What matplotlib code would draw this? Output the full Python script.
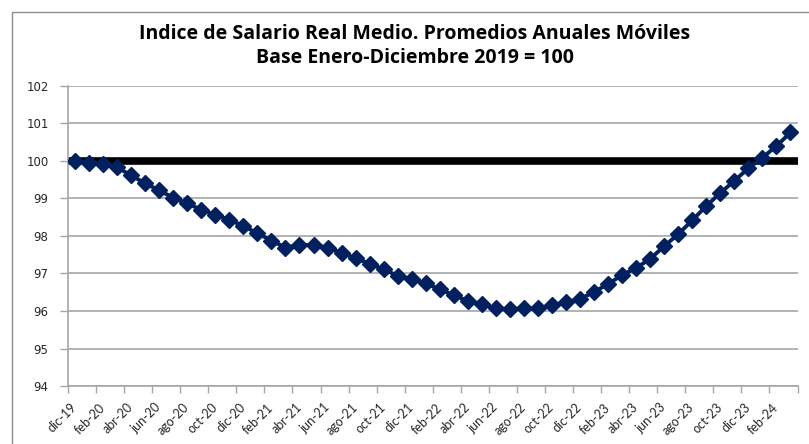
import matplotlib
matplotlib.use("Agg")
import matplotlib.pyplot as plt
from matplotlib.patches import Rectangle
import numpy as np

# ---- data ----
months = ["ene", "feb", "mar", "abr", "may", "jun", "jul", "ago", "sep", "oct", "nov", "dic"]
categories = ["dic-19"] + [f"{m}-{y}" for y in ["20", "21", "22", "23"] for m in months] + ["ene-24", "feb-24", "mar-24"]

values = [
    100.00, 99.95, 99.93, 99.83, 99.62, 99.40, 99.22, 99.02, 98.87, 98.70, 98.56, 98.43,
    98.27, 98.07, 97.88, 97.69, 97.76, 97.76, 97.69, 97.55, 97.41, 97.26, 97.11, 96.94,
    96.84, 96.74, 96.58, 96.42, 96.27, 96.18, 96.07, 96.04, 96.08, 96.07, 96.15, 96.23,
    96.32, 96.51, 96.72, 96.96, 97.15, 97.39, 97.73, 98.05, 98.42, 98.80, 99.15, 99.47,
    99.81, 100.09, 100.40, 100.76,
]
base_value = 100
yticks = [94, 95, 96, 97, 98, 99, 100, 101, 102]
title_lines = ["Indice de Salario Real Medio. Promedios Anuales Móviles",
               "Base Enero-Diciembre 2019 = 100"]

# ---- figure ----
W, H = 809, 444
fig = plt.figure(figsize=(W / 100, H / 100), dpi=100)
fig.patch.set_facecolor("white")

# outer chart frame (only left/top visible)
fig.patches.append(Rectangle((12 / W, -0.2), 1.2, 1.2 - 12 / H, transform=fig.transFigure,
                             fill=False, edgecolor="#8c8c8c", linewidth=1.0, zorder=0))

left, right, top, bottom = 68, 797.5, 86, 386
ax = fig.add_axes([left / W, 1 - bottom / H, (right - left) / W, (bottom - top) / H])

n = len(categories)
x = np.arange(n)
ax.set_xlim(-0.5, n - 0.5)
ax.set_ylim(94, 102)

ax.set_yticks(yticks)
ax.yaxis.grid(True, color="#a6a6a6", linewidth=1.2)
ax.set_axisbelow(True)

ax.axhline(base_value, color="black", linewidth=5.5, zorder=2, solid_capstyle="butt")
ax.plot(x, values, color="#002060", linewidth=2.8, marker="D", markersize=8,
        markeredgecolor="#002060", markerfacecolor="#002060", zorder=3)

for s in ["top", "right"]:
    ax.spines[s].set_visible(False)
for s in ["left", "bottom"]:
    ax.spines[s].set_color("#a6a6a6")
    ax.spines[s].set_linewidth(1.2)

# ticks: boundaries every two categories
ax.set_xticks(np.arange(-0.5, n, 2))
ax.set_xticklabels([])
ax.tick_params(axis="x", which="major", length=5, color="#a6a6a6", width=1)
ax.set_xticks(x[::2], minor=True)
ax.set_xticklabels(categories[::2], minor=True, rotation=45, ha="right", va="center",
                   rotation_mode="anchor", fontsize=9, family="Lato", color="#262626")
ax.tick_params(axis="x", which="minor", length=0, pad=14)

ax.tick_params(axis="y", length=6, color="#a6a6a6", width=1, pad=8, labelsize=8.5,
               labelcolor="#262626")
for lab in ax.get_yticklabels():
    lab.set_family("DejaVu Sans")

fig.text(415 / W, 1 - 34 / H, title_lines[0], ha="center", va="center",
         fontsize=14, fontweight="bold", family="Open Sans", color="black")
fig.text(415 / W, 1 - 58 / H, title_lines[1], ha="center", va="center",
         fontsize=14, fontweight="bold", family="Open Sans", color="black")

fig.savefig("out.png", dpi=100, facecolor="white")
